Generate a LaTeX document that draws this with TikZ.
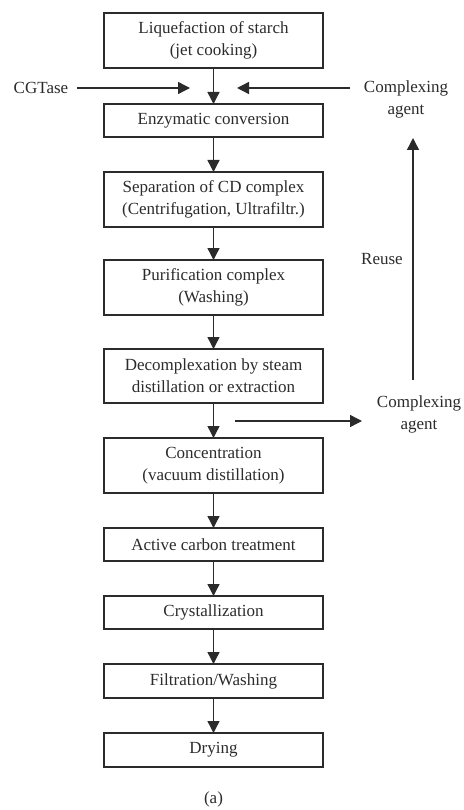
\documentclass[tikz,border=0pt]{standalone}
\usepackage{fontspec}
\setmainfont{Liberation Serif}
\usetikzlibrary{arrows.meta}
\definecolor{ink}{gray}{0.17}
\begin{document}
\begin{tikzpicture}[x=1pt,y=-1pt,
  stepbox/.style={draw=ink,line width=1.4pt,minimum width=219pt,inner sep=0pt,outer sep=0pt,align=center,text=ink,font=\fontsize{17}{22}\selectfont},
  lbl/.style={align=center,text=ink,inner sep=0pt,font=\fontsize{17}{22}\selectfont},
  arr/.style={draw=ink,line width=1.4pt,-{Triangle[length=12pt,width=12pt]}}]
\useasboundingbox (0,0) rectangle (463,810);
\node[stepbox,minimum height=55pt] (b1) at (213.5,40.5) {Liquefaction of starch\\(jet cooking)};
\node[stepbox,minimum height=33pt] (b2) at (213.5,120.5) {Enzymatic conversion};
\node[stepbox,minimum height=55pt] (b3) at (213.5,199.5) {Separation of CD complex\\(Centrifugation, Ultrafiltr.)};
\node[stepbox,minimum height=55pt] (b4) at (213.5,287.5) {Purification complex\\(Washing)};
\node[stepbox,minimum height=54pt] (b5) at (213.5,376) {Decomplexation by steam\\distillation or extraction};
\node[stepbox,minimum height=55pt] (b6) at (213.5,465.5) {Concentration\\(vacuum distillation)};
\node[stepbox,minimum height=33pt] (b7) at (213.5,544.5) {Active carbon treatment};
\node[stepbox,minimum height=33pt] (b8) at (213.5,612.5) {Crystallization};
\node[stepbox,minimum height=34pt] (b9) at (213.5,681) {Filtration/Washing};
\node[stepbox,minimum height=34pt] (b10) at (213.5,750) {Drying};
\node[lbl] (cap) at (213.5,799) {(a)};
\node[lbl] (cg) at (41,88) {CGTase};
\node[lbl] (ca1) at (406,99) {Complexing\\agent};
\node[lbl] (ca2) at (419,414) {Complexing\\agent};
\node[lbl] (reuse) at (382,259) {Reuse};
\coordinate (cgs) at (77,88);
\coordinate (cgt) at (190,88);
\coordinate (cas) at (350,88);
\coordinate (cat) at (237,88);
\coordinate (rus) at (413,380);
\coordinate (rut) at (413,138);
\coordinate (ds) at (235,421);
\coordinate (dt) at (362,421);
\draw[arr] (b1) -- (b2);
\draw[arr] (b2) -- (b3);
\draw[arr] (b3) -- (b4);
\draw[arr] (b4) -- (b5);
\draw[arr] (b5) -- (b6);
\draw[arr] (b6) -- (b7);
\draw[arr] (b7) -- (b8);
\draw[arr] (b8) -- (b9);
\draw[arr] (b9) -- (b10);
\draw[arr] (cgs) -- (cgt);
\draw[arr] (cas) -- (cat);
\draw[arr] (rus) -- (rut);
\draw[arr] (ds) -- (dt);
\end{tikzpicture}
\end{document}
